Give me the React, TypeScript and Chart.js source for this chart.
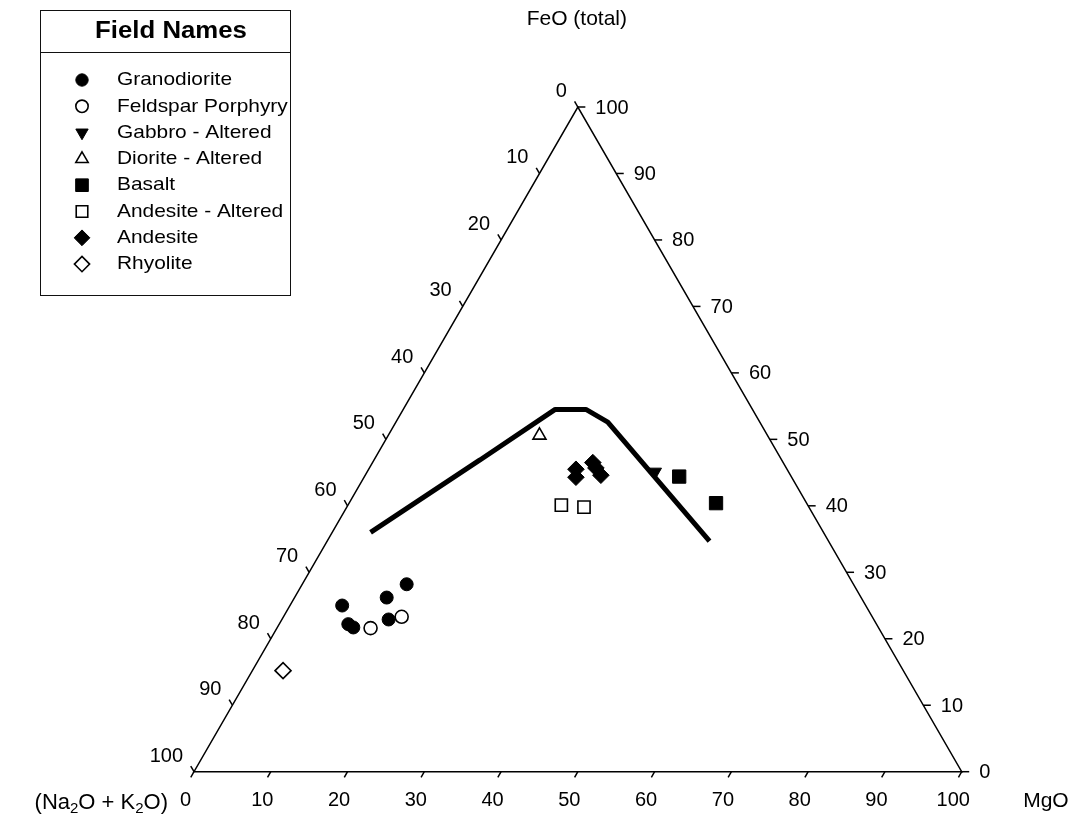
import React, { useEffect, useRef } from "react";
import { Chart, registerables } from "chart.js";
import { drawPoint } from "chart.js/helpers";

Chart.register(...registerables);

// Ternary values: FeO (total) and MgO in %, (Na2O + K2O) = 100 - FeO - MgO
const granodioriteFeO = [25.0, 22.2, 21.7, 26.2, 28.2, 22.9];
const granodioriteMgO = [6.8, 9.0, 9.9, 12.0, 13.6, 13.9];
const feldsparFeO = [21.6, 23.3];
const feldsparMgO = [12.2, 15.4];
const gabbroFeO = [45.1];
const gabbroMgO = [37.5];
const dioriteFeO = [50.6];
const dioriteMgO = [19.7];
const basaltFeO = [44.4, 40.4];
const basaltMgO = [41.0, 47.8];
const andesiteAltFeO = [40.1, 39.8];
const andesiteAltMgO = [27.8, 30.9];
const andesiteFeO = [45.5, 44.3, 46.5, 45.7, 44.6];
const andesiteMgO = [27.0, 27.6, 28.7, 29.5, 30.7];
const rhyoliteFeO = [15.2];
const rhyoliteMgO = [4.0];
// tholeiitic / calc-alkaline boundary
const boundaryFeO = [36.0, 46.9, 54.5, 54.5, 52.6, 34.7];
const boundaryMgO = [5.0, 13.8, 19.8, 23.8, 27.6, 49.8];

const axisTicks = [0, 10, 20, 30, 40, 50, 60, 70, 80, 90, 100];

const legendNames = [
  "Granodiorite",
  "Feldspar Porphyry",
  "Gabbro - Altered",
  "Diorite - Altered",
  "Basalt",
  "Andesite - Altered",
  "Andesite",
  "Rhyolite",
];

const H = Math.sqrt(3) / 2;
const toXY = (feo: number, mgo: number) => ({ x: mgo + feo / 2, y: feo * H });
const series = (f: number[], m: number[]) => f.map((v, i) => toXY(v, m[i]));

const FONT = "'Liberation Sans', Arial, sans-serif";

type Sty = { pointStyle: string; radius: number; rotation: number; fill: string; bw: number };
const styles: Sty[] = [
  { pointStyle: "circle", radius: 6.5, rotation: 0, fill: "#000", bw: 1 },
  { pointStyle: "circle", radius: 6.5, rotation: 0, fill: "#fff", bw: 1.6 },
  { pointStyle: "triangle", radius: 7.5, rotation: 180, fill: "#000", bw: 1 },
  { pointStyle: "triangle", radius: 7.5, rotation: 0, fill: "#fff", bw: 1.6 },
  { pointStyle: "rect", radius: 9.4, rotation: 0, fill: "#000", bw: 1 },
  { pointStyle: "rect", radius: 8.6, rotation: 0, fill: "#fff", bw: 1.6 },
  { pointStyle: "rectRot", radius: 8.3, rotation: 0, fill: "#000", bw: 1 },
  { pointStyle: "rectRot", radius: 8.0, rotation: 0, fill: "#fff", bw: 1.6 },
];

const frame = {
  id: "ternaryFrame",
  beforeDatasetsDraw(chart: any) {
    const ctx = chart.ctx as CanvasRenderingContext2D;
    const sx = chart.scales.x;
    const sy = chart.scales.y;
    const P = (p: { x: number; y: number }) => [sx.getPixelForValue(p.x), sy.getPixelForValue(p.y)];
    const L = P(toXY(0, 0));
    const R = P(toXY(0, 100));
    const T = P(toXY(100, 0));
    ctx.save();
    ctx.strokeStyle = "#000";
    ctx.fillStyle = "#000";
    ctx.lineWidth = 1.5;
    ctx.beginPath();
    ctx.moveTo(L[0], L[1]);
    ctx.lineTo(R[0], R[1]);
    ctx.lineTo(T[0], T[1]);
    ctx.closePath();
    ctx.stroke();

    const tl = 6.5;
    ctx.font = `20px ${FONT}`;
    ctx.textBaseline = "middle";
    axisTicks.forEach((v) => {
      // left axis: (Na2O + K2O)
      const a = P(toXY(100 - v, 0));
      ctx.beginPath();
      ctx.moveTo(a[0], a[1]);
      ctx.lineTo(a[0] - 0.5 * tl, a[1] - H * tl);
      ctx.stroke();
      ctx.textAlign = "right";
      ctx.fillText(String(v), a[0] - 11, a[1] - 15.5);
      // bottom axis: MgO
      const b = P(toXY(0, v));
      ctx.beginPath();
      ctx.moveTo(b[0], b[1]);
      ctx.lineTo(b[0] - 0.5 * tl, b[1] + H * tl);
      ctx.stroke();
      ctx.textAlign = "center";
      ctx.fillText(String(v), b[0] - 8.5, b[1] + 28.5);
      // right axis: FeO
      const c = P(toXY(v, 100 - v));
      ctx.beginPath();
      ctx.moveTo(c[0], c[1]);
      ctx.lineTo(c[0] + tl + 1, c[1]);
      ctx.stroke();
      ctx.textAlign = "left";
      ctx.fillText(String(v), c[0] + 17.5, c[1] + 1);
    });

    // axis titles
    ctx.font = `21px ${FONT}`;
    ctx.textAlign = "center";
    ctx.fillText("FeO (total)", T[0] - 1, 19);
    ctx.textAlign = "left";
    ctx.fillText("MgO", R[0] + 61.5, R[1] + 30);

    // (Na2O + K2O) with subscripts
    const parts: [string, boolean][] = [["(Na", false], ["2", true], ["O + K", false], ["2", true], ["O)", false]];
    const big = `22px ${FONT}`;
    const small = `15px ${FONT}`;
    let total = 0;
    parts.forEach(([t, s]) => {
      ctx.font = s ? small : big;
      total += ctx.measureText(t).width;
    });
    let x = 168 - total;
    const yb = L[1] + 31;
    ctx.textAlign = "left";
    parts.forEach(([t, s]) => {
      ctx.font = s ? small : big;
      ctx.fillText(t, x, s ? yb + 6 : yb);
      x += ctx.measureText(t).width;
    });
    ctx.restore();
  },
  afterDraw(chart: any) {
    const ctx = chart.ctx as CanvasRenderingContext2D;
    ctx.save();
    const bx = 40.5, by = 10.5, bw = 250, bh = 285;
    ctx.strokeStyle = "#111";
    ctx.lineWidth = 1;
    ctx.strokeRect(bx, by, bw, bh);
    ctx.beginPath();
    ctx.moveTo(bx, 52.5);
    ctx.lineTo(bx + bw, 52.5);
    ctx.stroke();
    ctx.fillStyle = "#000";
    ctx.textBaseline = "middle";
    ctx.textAlign = "center";
    ctx.font = `bold 23px ${FONT}`;
    ctx.save();
    ctx.translate(171, 32);
    ctx.scale(1.12, 1);
    ctx.fillText("Field Names", 0, 0);
    ctx.restore();
    ctx.textAlign = "left";
    ctx.font = `19px ${FONT}`;
    legendNames.forEach((name, i) => {
      const y = 80 + i * 26.3;
      const s = styles[i];
      ctx.fillStyle = s.fill;
      ctx.strokeStyle = "#000";
      ctx.lineWidth = s.bw;
      drawPoint(ctx, { pointStyle: s.pointStyle as any, radius: s.radius * 0.95, rotation: s.rotation, borderWidth: s.bw }, 82, y);
      ctx.fillStyle = "#000";
      ctx.save();
      ctx.translate(117, y);
      ctx.scale(1.1, 1);
      ctx.fillText(name, 0, 0);
      ctx.restore();
    });
    ctx.restore();
  },
};

export default function App() {
  const ref = useRef<HTMLCanvasElement | null>(null);
  useEffect(() => {
    if (!ref.current) return;
    const pts = [
      series(granodioriteFeO, granodioriteMgO),
      series(feldsparFeO, feldsparMgO),
      series(gabbroFeO, gabbroMgO),
      series(dioriteFeO, dioriteMgO),
      series(basaltFeO, basaltMgO),
      series(andesiteAltFeO, andesiteAltMgO),
      series(andesiteFeO, andesiteMgO),
      series(rhyoliteFeO, rhyoliteMgO),
    ];
    const datasets: any[] = pts.map((d, i) => ({
      label: legendNames[i],
      data: d,
      showLine: false,
      pointStyle: styles[i].pointStyle,
      pointRadius: styles[i].radius,
      pointRotation: styles[i].rotation,
      pointBackgroundColor: styles[i].fill,
      pointBorderColor: "#000",
      pointBorderWidth: styles[i].bw,
      clip: false,
    }));
    datasets.push({
      label: "boundary",
      data: series(boundaryFeO, boundaryMgO),
      showLine: true,
      borderColor: "#000",
      borderWidth: 5,
      pointRadius: 0,
      borderCapStyle: "butt",
      borderJoinStyle: "bevel",
      tension: 0,
      clip: false,
    });
    const chart = new Chart(ref.current, {
      type: "scatter",
      data: { datasets },
      options: {
        animation: false,
        responsive: false,
        devicePixelRatio: 1,
        layout: { padding: { left: 194, right: 117.3, top: 107, bottom: 55.3 } },
        scales: {
          x: { type: "linear", min: 0, max: 100, display: false },
          y: { type: "linear", min: 0, max: 100 * H, display: false },
        },
        plugins: { legend: { display: false }, tooltip: { enabled: false } },
      },
      plugins: [frame],
    });
    return () => chart.destroy();
  }, []);
  return (
    <div style={{ position: "fixed", left: 0, top: 0, width: 1079, height: 827, background: "#fff" }}>
      <canvas ref={ref} width={1079} height={827} style={{ width: 1079, height: 827, display: "block" }} />
    </div>
  );
}
